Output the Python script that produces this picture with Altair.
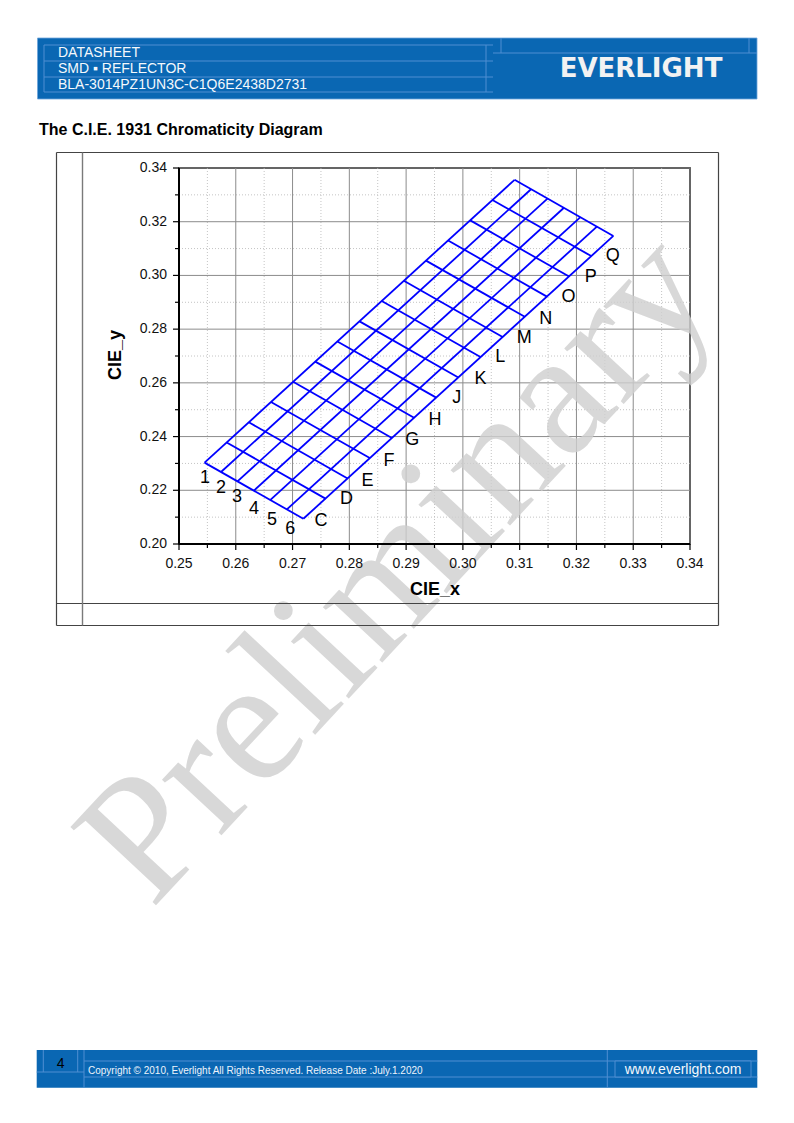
import altair as alt
import pandas as pd

# ---------------------------------------------------------------------------
# Bin grid of the CIE 1931 chromaticity chart (x, y endpoints of each line)
# ---------------------------------------------------------------------------
# Long lines running from the lower-left edge to the upper-right edge
long_x0 = [0.2545, 0.2574, 0.2603, 0.2632, 0.2661, 0.2690, 0.2719]
long_y0 = [0.2303, 0.2268, 0.2233, 0.2199, 0.2164, 0.2129, 0.2094]
long_x1 = [0.3091, 0.3120, 0.3149, 0.3178, 0.3207, 0.3236, 0.3265]
long_y1 = [0.3356, 0.3321, 0.3286, 0.3252, 0.3217, 0.3182, 0.3147]

# Cross lines running from the upper-left edge to the lower-right edge
cross_x0 = [0.2545, 0.2584, 0.2623, 0.2662, 0.2701, 0.2740, 0.2779, 0.2818,
            0.2857, 0.2896, 0.2935, 0.2974, 0.3013, 0.3052, 0.3091]
cross_y0 = [0.2303, 0.2378, 0.2453, 0.2529, 0.2604, 0.2679, 0.2754, 0.2829,
            0.2905, 0.2980, 0.3055, 0.3130, 0.3205, 0.3281, 0.3356]
cross_x1 = [0.2719, 0.2758, 0.2797, 0.2836, 0.2875, 0.2914, 0.2953, 0.2992,
            0.3031, 0.3070, 0.3109, 0.3148, 0.3187, 0.3226, 0.3265]
cross_y1 = [0.2094, 0.2169, 0.2244, 0.2320, 0.2395, 0.2470, 0.2545, 0.2620,
            0.2696, 0.2771, 0.2846, 0.2921, 0.2996, 0.3072, 0.3147]

# Rank labels along the short edge
num_labels = ["1", "2", "3", "4", "5", "6"]
num_x = [0.2546, 0.2574, 0.2602, 0.2632, 0.2664, 0.2696]
num_y = [0.2244, 0.2207, 0.2174, 0.2132, 0.2091, 0.2054]

# Bin labels along the long edge
bin_labels = ["C", "D", "E", "F", "G", "H", "J", "K", "L", "M", "N", "O", "P", "Q"]
bin_x = [0.2750, 0.2795, 0.2832, 0.2870, 0.2911, 0.2951, 0.2989, 0.3031,
         0.3066, 0.3108, 0.3146, 0.3186, 0.3225, 0.3264]
bin_y = [0.2084, 0.2166, 0.2233, 0.2308, 0.2386, 0.2461, 0.2543, 0.2614,
         0.2696, 0.2767, 0.2838, 0.2920, 0.2994, 0.3073]

# Axis ticks
x_ticks = [0.25, 0.26, 0.27, 0.28, 0.29, 0.30, 0.31, 0.32, 0.33, 0.34]
y_ticks = [0.20, 0.22, 0.24, 0.26, 0.28, 0.30, 0.32, 0.34]
x_minor = [0.255, 0.265, 0.275, 0.285, 0.295, 0.305, 0.315, 0.325, 0.335]
y_minor = [0.21, 0.23, 0.25, 0.27, 0.29, 0.31, 0.33]

# ---------------------------------------------------------------------------
# Page layout (pixels)
# ---------------------------------------------------------------------------
PAGE_W, PAGE_H = 794, 1123
OX, OY = 179, 168          # top-left corner of the plot area
PW, PH = 511, 376          # plot area size
SANS = "Liberation Sans"
BLUE = "#0a67b3"
LIGHT = "#4f8fd2"

xs = alt.Scale(domain=[0.25, 0.34], nice=False, zero=False)
ys = alt.Scale(domain=[0.20, 0.34], nice=False, zero=False)

lines_df = pd.concat([
    pd.DataFrame({"x0": long_x0, "y0": long_y0, "x1": long_x1, "y1": long_y1}),
    pd.DataFrame({"x0": cross_x0, "y0": cross_y0, "x1": cross_x1, "y1": cross_y1}),
], ignore_index=True)
num_df = pd.DataFrame({"lab": num_labels, "lx": num_x, "ly": num_y})
bin_df = pd.DataFrame({"lab": bin_labels, "lx": bin_x, "ly": bin_y})
xmajor_df = pd.DataFrame({"v": x_ticks})
ymajor_df = pd.DataFrame({"v": y_ticks})
xminor_df = pd.DataFrame({"v": x_minor})
yminor_df = pd.DataFrame({"v": y_minor})
one = pd.DataFrame({"k": [0]})


def X(field):
    return alt.X(field, scale=xs, axis=None)


def Y(field):
    return alt.Y(field, scale=ys, axis=None)


# ---- axes: grid, ticks, tick labels, domain lines ----
grid_major_x = alt.Chart(xmajor_df).mark_rule(color="#8c8c8c", strokeWidth=1).encode(x=X("v:Q"))
grid_major_y = alt.Chart(ymajor_df).mark_rule(color="#8c8c8c", strokeWidth=1).encode(y=Y("v:Q"))
grid_minor_x = alt.Chart(xminor_df).mark_rule(color="#c4c4c4", strokeDash=[1, 2], strokeWidth=1).encode(x=X("v:Q"))
grid_minor_y = alt.Chart(yminor_df).mark_rule(color="#c4c4c4", strokeDash=[1, 2], strokeWidth=1).encode(y=Y("v:Q"))

tick_major_x = alt.Chart(xmajor_df).mark_rule(color="#000", strokeWidth=1.2).encode(
    x=X("v:Q"), y=alt.value(PH), y2=alt.value(PH + 6))
tick_major_y = alt.Chart(ymajor_df).mark_rule(color="#000", strokeWidth=1.2).encode(
    y=Y("v:Q"), x=alt.value(0), x2=alt.value(-6))
tick_minor_x = alt.Chart(xminor_df).mark_rule(color="#000", strokeWidth=1.2).encode(
    x=X("v:Q"), y=alt.value(PH), y2=alt.value(PH + 4))
tick_minor_y = alt.Chart(yminor_df).mark_rule(color="#000", strokeWidth=1.2).encode(
    y=Y("v:Q"), x=alt.value(0), x2=alt.value(-4))

label_x = alt.Chart(xmajor_df).mark_text(font=SANS, fontSize=14, color="#111",
                                         align="center", baseline="middle").encode(
    x=X("v:Q"), y=alt.value(PH + 19.5), text=alt.Text("v:Q", format=".2f"))
label_y = alt.Chart(ymajor_df).mark_text(font=SANS, fontSize=14, color="#111",
                                         align="right", baseline="middle").encode(
    y=Y("v:Q"), x=alt.value(-12), text=alt.Text("v:Q", format=".2f"))

domain_x = alt.Chart(one).mark_rule(color="#000", strokeWidth=2).encode(
    x=alt.value(0), x2=alt.value(PW), y=alt.value(PH), y2=alt.value(PH))
domain_y = alt.Chart(one).mark_rule(color="#000", strokeWidth=2).encode(
    x=alt.value(0), x2=alt.value(0), y=alt.value(0), y2=alt.value(PH))

# ---- blue bin grid and its labels ----
grid = alt.Chart(lines_df).mark_rule(color="#0000ff", strokeWidth=1.8).encode(
    x=X("x0:Q"), x2="x1:Q", y=Y("y0:Q"), y2="y1:Q")

label_style = dict(font=SANS, fontSize=18, color="#000", align="center", baseline="middle")
num_text = alt.Chart(num_df).mark_text(**label_style).encode(
    x=X("lx:Q"), y=Y("ly:Q"), text="lab:N")
bin_text = alt.Chart(bin_df).mark_text(**label_style).encode(
    x=X("lx:Q"), y=Y("ly:Q"), text="lab:N")


# ---------------------------------------------------------------------------
# Page furniture, positioned in page pixels
# ---------------------------------------------------------------------------
def prect(x0, y0, x1, y1, **style):
    return alt.Chart(one).mark_rect(**style).encode(
        x=alt.value(x0 - OX), x2=alt.value(x1 - OX),
        y=alt.value(y0 - OY), y2=alt.value(y1 - OY))


def pline(x0, y0, x1, y1, color, width=1.0):
    return alt.Chart(one).mark_rule(color=color, strokeWidth=width).encode(
        x=alt.value(x0 - OX), x2=alt.value(x1 - OX),
        y=alt.value(y0 - OY), y2=alt.value(y1 - OY))


def ptext(x, y, text, **style):
    return alt.Chart(one).mark_text(text=text, baseline="middle", **style).encode(
        x=alt.value(x - OX), y=alt.value(y - OY))


# light "Preliminary" stamp across the page, above the grid lines
watermark = ptext(398, 568, "Preliminary", font="Liberation Serif", fontSize=177,
                  color="#cfcfcf", opacity=0.8, align="center", angle=313)

furniture = [
    # axis titles
    ptext(435, 590, "CIE_x", font=SANS, fontSize=18, fontWeight="bold", color="#000", align="center"),
    ptext(116, 355, "CIE_y", font=SANS, fontSize=18, fontWeight="bold", color="#000",
          align="center", angle=270),
    # header band
    prect(37.5, 38, 757, 99, fill=BLUE, stroke="#6fa6dc", strokeWidth=0.8),
    pline(44, 45, 44, 92, LIGHT), pline(486, 45, 486, 92, LIGHT),
    pline(44, 45, 493, 45, LIGHT), pline(44, 61, 493, 61, LIGHT),
    pline(44, 77, 493, 77, LIGHT), pline(44, 92, 493, 92, LIGHT),
    pline(501, 38, 501, 53, LIGHT), pline(749, 38, 749, 53, LIGHT),
    pline(493, 53, 757, 53, LIGHT),
    ptext(58, 52.5, "DATASHEET", font=SANS, fontSize=14, color="#f4f8fc", align="left"),
    ptext(58, 68.5, "SMD ▪ REFLECTOR", font=SANS, fontSize=14, color="#f4f8fc", align="left"),
    ptext(58, 84.5, "BLA-3014PZ1UN3C-C1Q6E2438D2731", font=SANS, fontSize=14, color="#f4f8fc", align="left"),
    ptext(641, 68.5, "EVERLIGHT", font="DejaVu Sans", fontSize=26, fontWeight="bold",
          color="#f2f2f2", align="center"),
    # section title
    ptext(39, 129.5, "The C.I.E. 1931 Chromaticity Diagram", font=SANS, fontSize=16,
          fontWeight="bold", color="#000", align="left"),
    # table frame around the figure
    pline(56.5, 152.5, 718.5, 152.5, "#444", 1.2),
    pline(56.5, 603.5, 718.5, 603.5, "#444", 1.2),
    pline(56.5, 625.5, 718.5, 625.5, "#444", 1.2),
    pline(56.5, 152.5, 56.5, 625.5, "#444", 1.2),
    pline(82.5, 152.5, 82.5, 625.5, "#7a7a7a", 1.4),
    pline(718.5, 152.5, 718.5, 625.5, "#444", 1.2),
    # footer band
    prect(36.7, 1050, 757.3, 1087.7, fill=BLUE),
    pline(43.3, 1050, 43.3, 1072, LIGHT), pline(77.7, 1050, 77.7, 1072, LIGHT),
    pline(36.7, 1072, 84, 1072, LIGHT), pline(84, 1050, 84, 1087.7, LIGHT),
    pline(84, 1061, 757.3, 1061, LIGHT), pline(84, 1077, 757.3, 1077, LIGHT),
    pline(607.3, 1050, 607.3, 1087.7, LIGHT),
    prect(615, 1061, 751, 1077, fill=BLUE, stroke=LIGHT, strokeWidth=1),
    ptext(60.7, 1063.5, "4", font=SANS, fontSize=14, color="#000", align="center"),
    ptext(88, 1070.5, "Copyright © 2010, Everlight All Rights Reserved. Release Date :July.1.2020",
          font=SANS, fontSize=10, color="#eef4fb", align="left"),
    ptext(683, 1069.5, "www.everlight.com", font=SANS, fontSize=14, color="#f4f8fc", align="center"),
]

chart = alt.layer(
    grid_minor_x, grid_minor_y, grid_major_x, grid_major_y,
    watermark,
    tick_minor_x, tick_minor_y, tick_major_x, tick_major_y,
    domain_x, domain_y, label_x, label_y,
    grid, num_text, bin_text,
    *furniture,
).properties(
    width=PW, height=PH,
    padding={"left": OX, "top": OY, "right": PAGE_W - OX - PW, "bottom": PAGE_H - OY - PH},
    autosize=alt.AutoSizeParams(type="none"),
    background="white",
).configure_view(stroke="#000", strokeWidth=1.5)

chart.save("out.html", embed_options={"renderer": "svg", "actions": False})
